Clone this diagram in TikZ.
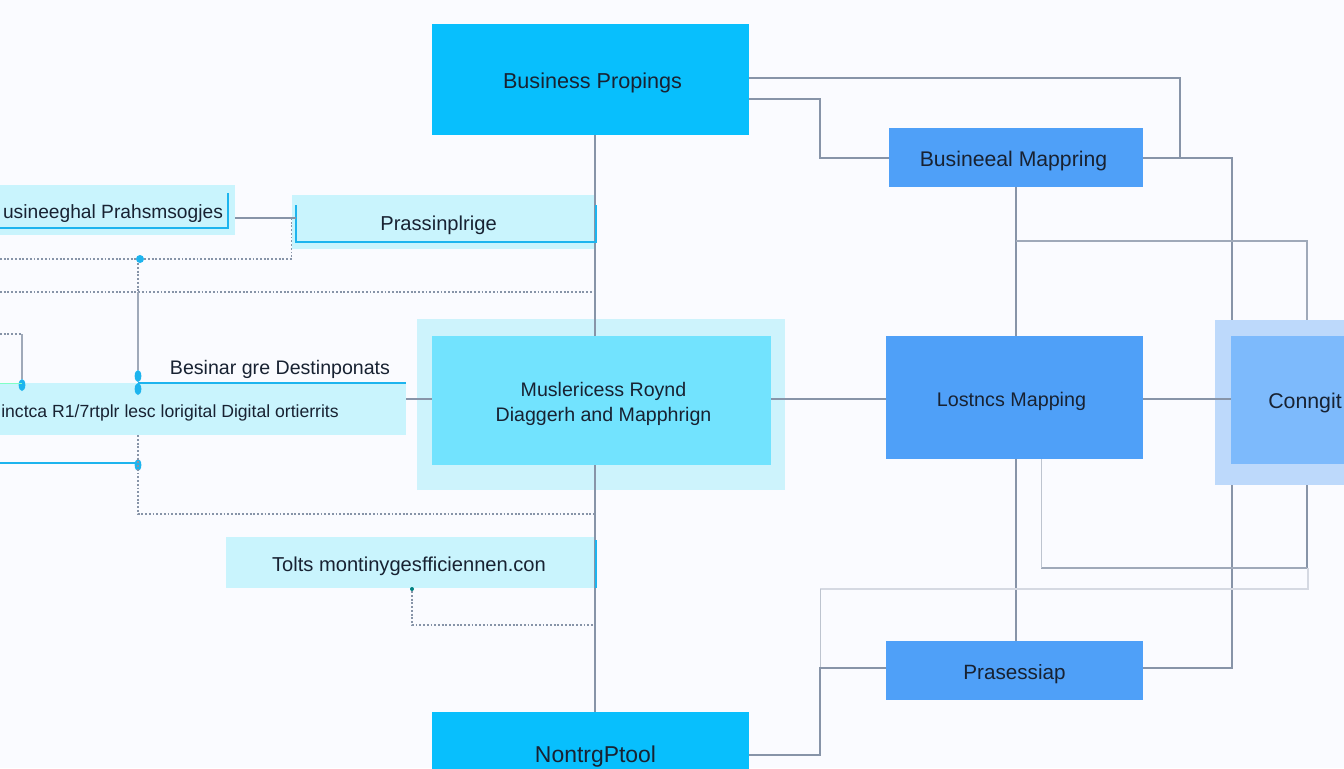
\documentclass[tikz,border=0pt]{standalone}
\usepackage{fontspec}
\setmainfont{Liberation Sans}
\usetikzlibrary{shapes.geometric}
\definecolor{pagebg}{HTML}{FAFBFF}
\definecolor{propfill}{HTML}{08BFFD}
\definecolor{mapfill}{HTML}{4FA0F8}
\definecolor{focusfill}{HTML}{72E3FE}
\definecolor{focushalo}{HTML}{CDF3FC}
\definecolor{paleband}{HTML}{C9F4FD}
\definecolor{confill}{HTML}{7DBAFC}
\definecolor{conhalo}{HTML}{BDD9FB}
\definecolor{wirecol}{HTML}{8794A8}
\definecolor{lightwire}{HTML}{D5D9E2}
\definecolor{trimcol}{HTML}{1DB4EE}
\definecolor{inkcol}{HTML}{182232}
\newcommand{\fsz}[1]{\fontsize{#1pt}{18.5pt}\selectfont}
\begin{document}
\begin{tikzpicture}[x=0.75pt, y=-0.75pt,
      block/.style={rectangle, fill=#1, inner sep=0pt, text=inkcol, text height=13pt, text depth=0pt,
        font=\fsz{15.5}},
      txt/.style={inner sep=0pt, text=inkcol, font=\fsz{15}},
      wire/.style={draw=wirecol, line width=1.4pt},
      thinwire/.style={draw=wirecol!80, line width=0.8pt},
      faintwire/.style={draw=wirecol!55, line width=0.6pt},
      palewire/.style={draw=lightwire, line width=0.8pt},
      dotline/.style={draw=wirecol, line width=0.8pt, dash pattern=on 1.4pt off 1.4pt},
      trim/.style={draw=trimcol, line width=1.3pt},
      dot/.style={circle, fill=trimcol, inner sep=0pt, minimum size=6pt},
      drop/.style={ellipse, fill=trimcol, inner sep=0pt, minimum width=5pt, minimum height=9pt},
      ]
      \useasboundingbox (0,0) rectangle (1344,768);
      \fill[pagebg] (0,0) rectangle (1344,768);

      % right column and middle
      \node[block=propfill, minimum width=237.75pt, minimum height=83.25pt, font=\fsz{16.2}] (busProp) at (590.5,79.5) {\hspace*{3pt}Business Propings};
      \node[block=propfill, minimum width=237.75pt, minimum height=63pt, below of=busProp, node distance=505.9pt, font=\fsz{17.2}] (botProp) {\hspace*{7.5pt}NontrgPtool};

      \node[block=focushalo, minimum width=276pt, minimum height=128.25pt] (focusBg) at (601,404.5) {};
      \node[block=focusfill, minimum width=254.25pt, minimum height=96.75pt] (focus) at (601.5,400.5) {};
      \node[txt, align=center, font=\fsz{14.7}] (focusTxt) at (603.5,404) {Muslericess Roynd\\Diaggerh and Mapphrign};

      \node[block=mapfill, minimum width=192.75pt, minimum height=92.25pt, font=\fsz{14.8}] (losMap) at (1014.5,397.5) {Lostncs Mapping\hspace*{4.5pt}};
      \node[block=mapfill, minimum width=190.5pt, minimum height=44.25pt, font=\fsz{15.9}] (bizMap) at (1016,157.5) {Busineeal Mappring\hspace*{3.8pt}};
      \node[block=mapfill, minimum width=192.75pt, minimum height=44.25pt, below of=losMap, node distance=204.75pt] (prasMap) {Prasessiap};

      \node[block=conhalo, minimum width=138.75pt, minimum height=123.75pt] (confBg) at (1307.5,402.5) {};
      \node[block=confill, minimum width=111pt, minimum height=96pt, font=\fsz{16}] (confIn) at (1305,400) {Conngit};

      % left side bands
      \node[block=paleband, minimum width=186pt, minimum height=37.5pt, font=\fsz{14.4}] (leftBox) at (111,210) {\hspace*{3pt}usineeghal Prahsmsogjes};
      \node[block=paleband, minimum width=228pt, minimum height=40.5pt, font=\fsz{15.1}] (prasBox) at (444,222) {Prassinplrige\hspace*{8.2pt}};
      \node[block=paleband, minimum width=354pt, minimum height=39pt, font=\fsz{13.2}] (digiBox) at (170,409) {inctca R1/7rtplr lesc lorigital Digital ortierrits};
      \node[txt, font=\fsz{14.7}] (destTxt) at (280,369) {Besinar gre Destinponats};
      \node[block=paleband, minimum width=277.5pt, minimum height=38.25pt, font=\fsz{15.1}] (toolBox) at (411,562.5) {Tolts montinygesfficiennen.con\hspace*{3pt}};

      \coordinate (spine) at (595,0);
      \coordinate (hub) at (0,399);
      \coordinate (hubLow) at (0,668);
      \coordinate (hubLeft) at (0,218);
      \coordinate (railA) at (1232,0);
      \coordinate (railB) at (1307,0);
      \coordinate (busOutA) at (749,78);
      \coordinate (busOutB) at (749,99);
      \coordinate (botOut) at (749,755);
      \coordinate (joinA) at (1180,158);
      \coordinate (elbowA) at (820,158);
      \coordinate (elbowB) at (820,668);
      \coordinate (tapA) at (1016,241);
      \coordinate (jogA) at (1041,568);
      \coordinate (jogB) at (1308,568);
      \coordinate (paleA) at (820,589);

      \draw[wire] (busProp.south -| spine) -- (focus.north -| spine);
      \draw[wire] (focus.south -| spine) -- (botProp.north -| spine);
      \draw[wire] (busOutA) -| (joinA);
      \draw[wire] (busOutB) -| (elbowA) -- (bizMap.west |- elbowA);
      \draw[wire] (bizMap.east |- elbowA) -| (confBg.north -| railA);
      \draw[wire] (bizMap.south) -- (bizMap.south |- losMap.north);
      \draw[wire] (bizMap.south |- losMap.south) -- (bizMap.south |- prasMap.north);
      \draw[thinwire] (tapA) -| (confBg.north -| railB);
      \draw[wire] (digiBox.east |- hub) -- (focus.west |- hub);
      \draw[wire] (focus.east |- hub) -- (losMap.west |- hub);
      \draw[wire] (losMap.east |- hub) -- (confIn.west |- hub);
      \draw[wire] (confBg.south -| railA) -- (railA |- hubLow) -- (prasMap.east |- hubLow);
      \draw[wire] (confBg.south -| railB) -- (railB |- jogA);
      \draw[thinwire] (railB |- jogA) -- (jogA);
      \draw[faintwire] (jogA) -- (losMap.south -| jogA);
      \draw[palewire] (paleA) -| (jogB);
      \draw[faintwire] (elbowB) -- (paleA);
      \draw[wire] (botOut) -| (elbowB) -- (prasMap.west |- hubLow);

      % trim on the pale bands
      \coordinate (leftCorner) at (228,228);
      \coordinate (prasCorner) at (296,242);
      \coordinate (prasTrimEnd) at (596,242);
      \coordinate (digiTrim) at (138,383);
      \coordinate (digiTrimEnd) at (406,383);
      \coordinate (lowTrim) at (138,463);
      \draw[trim] (0,228) -- (leftCorner) -- ++(0,-35);
      \draw[trim] (296,205) -- (prasCorner) -- (prasTrimEnd) -- ++(0,-37);
      \draw[trim] (digiTrim) -- (digiTrimEnd);
      \draw[trim] (0,463) -- (lowTrim);
      \draw[trim] (596,540) -- (596,588);

      % dotted links
      \node[dot] (dotA) at (140,259) {};
      \node[drop] (dropA) at (22,385) {};
      \node[drop] (dropB) at (138,376) {};
      \node[drop] (dropC) at (138,389) {};
      \node[drop] (dropD) at (138,465) {};
      \node[dot, minimum size=3pt, fill=teal] (dotB) at (412,589) {};
      \coordinate (crossA) at (138,292);
      \coordinate (leftIn) at (0,259);
      \coordinate (midIn) at (0,292);
      \coordinate (farIn) at (0,334);
      \coordinate (farKnee) at (22,334);
      \coordinate (greenIn) at (0,383);
      \coordinate (lowKnee) at (138,514);
      \coordinate (toolKnee) at (412,625);

      \draw[wire, line width=1.1pt] (leftBox.east |- hubLeft) -- (prasCorner |- hubLeft);
      \draw[dotline] (leftIn) -- (dotA) -| (prasBox.west |- hubLeft);
      \draw[dotline] (midIn) -- (spine |- midIn);
      \draw[dotline] (dotA.south -| crossA) -- (crossA);
      \draw[thinwire] (crossA) -- (dropB);
      \draw[dotline] (farIn) -- (farKnee);
      \draw[thinwire] (farKnee) -- (dropA);
      \draw[draw=green!45!cyan!50, line width=0.6pt] (greenIn) -- (greenIn -| dropA);
      \draw[dotline] (digiTrim |- digiBox.south) -- (lowKnee) -- (spine |- lowKnee);
      \draw[dotline] (dotB) -- (toolKnee) -- (spine |- toolKnee);
\end{tikzpicture}
\end{document}
